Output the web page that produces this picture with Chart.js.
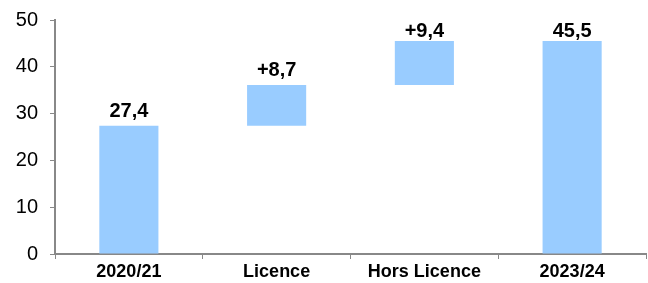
<!DOCTYPE html>
<html>
<head>
<meta charset="utf-8">
<script src="https://cdn.jsdelivr.net/npm/chart.js@4"></script>
<style>
  html, body { margin: 0; padding: 0; background: #fff; }
  #wrap { width: 648px; height: 283px; position: relative; }
</style>
</head>
<body>
<div id="wrap"><canvas id="c" width="648" height="283"></canvas></div>
<script>
const categories = ["2020/21", "Licence", "Hors Licence", "2023/24"];
const barStarts = [0, 27.4, 36.1, 0];
const barEnds = [27.4, 36.1, 45.5, 45.5];
const valueLabels = ["27,4", "+8,7", "+9,4", "45,5"];
const yTicks = [0, 10, 20, 30, 40, 50];

const data = categories.map((c, i) => [barStarts[i], barEnds[i]]);

const labelPlugin = {
  id: 'valueLabels',
  afterDatasetsDraw(chart) {
    const ctx = chart.ctx;
    const meta = chart.getDatasetMeta(0);
    ctx.save();
    ctx.font = 'bold 20px "Liberation Sans", Arial, sans-serif';
    ctx.fillStyle = '#000';
    ctx.textAlign = 'center';
    ctx.textBaseline = 'alphabetic';
    meta.data.forEach((bar, i) => {
      const yb = Math.max(bar.y - 9, chart.chartArea.top + 17);
      ctx.fillText(valueLabels[i], bar.x, yb);
    });
    ctx.restore();
  }
};

new Chart(document.getElementById('c'), {
  type: 'bar',
  data: {
    labels: categories,
    datasets: [{
      data: data,
      backgroundColor: '#99CCFF',
      borderWidth: 0,
      barPercentage: 0.4,
      categoryPercentage: 1.0
    }]
  },
  options: {
    responsive: false,
    animation: false,
    devicePixelRatio: 1,
    layout: { padding: { top: 20, right: 2, left: 0, bottom: 0 } },
    plugins: { legend: { display: false }, tooltip: { enabled: false } },
    scales: {
      x: {
        offset: true,
        grid: { display: true, drawOnChartArea: false, drawTicks: true, tickLength: 5, color: '#888', offset: true },
        border: { display: true, color: '#888', width: 2 },
        ticks: {
          color: '#000',
          font: { family: '"Liberation Sans", Arial, sans-serif', size: 18, weight: 'bold', lineHeight: 1.1 },
          padding: 3,
          maxRotation: 0
        },
        afterFit(s) { s.height = 29; }
      },
      y: {
        min: 0, max: 50,
        afterBuildTicks(s) { s.ticks = yTicks.map(v => ({ value: v })); },
        grid: { display: true, drawOnChartArea: false, drawTicks: true, tickLength: 5, color: '#888' },
        border: { display: true, color: '#888', width: 2 },
        ticks: {
          color: '#000',
          font: { family: '"Liberation Sans", Arial, sans-serif', size: 20, lineHeight: 1.0 },
          padding: 12
        },
        afterFit(s) { s.width = 55; s.paddingTop = 0; s.paddingBottom = 0; }
      }
    }
  },
  plugins: [labelPlugin]
});
</script>
</body>
</html>
